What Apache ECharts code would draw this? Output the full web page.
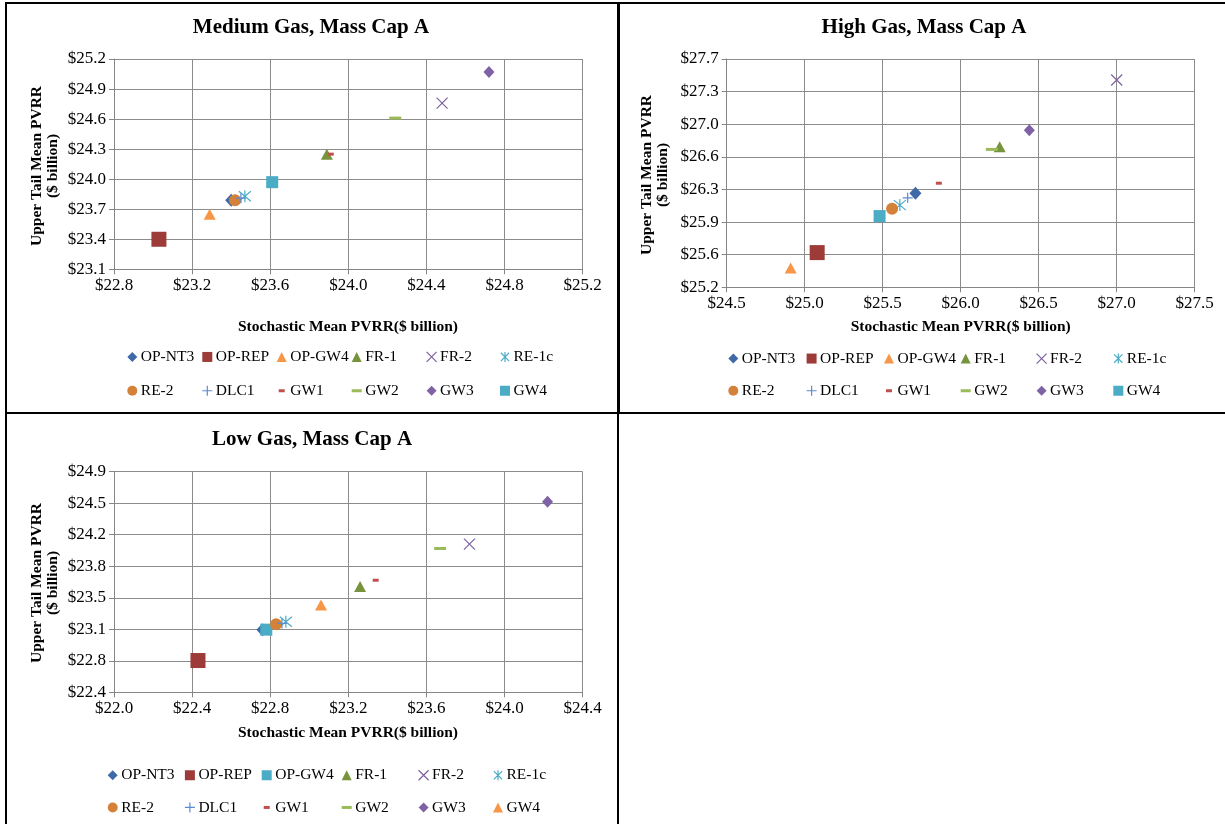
<!DOCTYPE html>
<html>
<head>
<meta charset="utf-8">
<script src="https://cdn.jsdelivr.net/npm/echarts@6/dist/echarts.min.js"></script>
<style>
  html, body { margin: 0; padding: 0; background: #fff; }
  #chart { width: 1225px; height: 824px; }
</style>
</head>
<body>
<div id="chart"></div>
<script>
// Portfolio names, in legend order
const seriesNames = ['OP-NT3', 'OP-REP', 'OP-GW4', 'FR-1', 'FR-2', 'RE-1c',
                     'RE-2', 'DLC1', 'GW1', 'GW2', 'GW3', 'GW4'];

// Medium Gas, Mass Cap A ($ billion)
const mediumStochastic = [23.40, 23.03, 23.29, 23.89, 24.48, 23.47, 23.42, 23.45, 23.91, 24.24, 24.72, 23.61];
const mediumUpperTail  = [23.79, 23.40, 23.65, 24.25, 24.76, 23.83, 23.79, 23.81, 24.25, 24.61, 25.07, 23.97];

// High Gas, Mass Cap A ($ billion)
const highStochastic = [25.71, 25.08, 24.91, 26.25, 27.00, 25.61, 25.56, 25.66, 25.86, 26.20, 26.44, 25.48];
const highUpperTail  = [26.23, 25.58, 25.41, 26.74, 27.47, 26.10, 26.06, 26.18, 26.34, 26.71, 26.92, 25.98];

// Low Gas, Mass Cap A ($ billion)
const lowStochastic = [22.76, 22.43, 22.78, 23.26, 23.82, 22.88, 22.83, 22.86, 23.34, 23.67, 24.22, 23.06];
const lowUpperTail  = [23.11, 22.76, 23.11, 23.60, 24.08, 23.20, 23.17, 23.18, 23.67, 24.03, 24.56, 23.39];

// Axis ranges: [min, max, step]
const mediumXRange = [22.8, 25.2, 0.4];
const mediumYRange = [23.1, 25.2, 0.3];
const highXRange   = [24.5, 27.5, 0.5];
const highYRange   = [25.2, 27.7, 2.5 / 7];
const lowXRange    = [22.0, 24.4, 0.4];
const lowYRange    = [22.4, 24.9, 2.5 / 7];

const panelTitles = ['Medium Gas, Mass Cap A', 'High Gas, Mass Cap A', 'Low Gas, Mass Cap A'];
const xTitle = 'Stochastic Mean PVRR($ billion)';
const yTitle = 'Upper Tail Mean PVRR\n($ billion)';

// ---- marker styles ----
const CROSS = 'path://M0,0L10,10M10,0L0,10';
const STAR = 'path://M0,0L10,10M10,0L0,10M5,-1L5,11';
const PLUS = 'path://M5,0L5,10M0,5L10,5';
const baseStyles = {
  'OP-NT3': { symbol: 'diamond', size: [12, 13], fill: '#3F6AA8' },
  'OP-REP': { symbol: 'rect', size: 15, fill: '#9D3B38' },
  'OP-GW4': { symbol: 'triangle', size: [12, 11], fill: '#F79646' },
  'FR-1':   { symbol: 'triangle', size: [12, 11], fill: '#77933C' },
  'FR-2':   { symbol: CROSS, size: 11, stroke: '#7E62A1' },
  'RE-1c':  { symbol: STAR, size: 12, stroke: '#4BACC6' },
  'RE-2':   { symbol: 'circle', size: 12, fill: '#D4813A' },
  'DLC1':   { symbol: PLUS, size: 10, stroke: '#5B8BD0' },
  'GW1':    { symbol: 'rect', size: [6, 3], fill: '#C0504D', icon: 'path://M0,0M10,10M2,3.5H8V6.5H2Z' },
  'GW2':    { symbol: 'rect', size: [12, 3], fill: '#9BBB59', icon: 'path://M0,0M10,10M0,3.5H10V6.5H0Z' },
  'GW3':    { symbol: 'diamond', size: [11, 12], fill: '#7F62A6' },
  'GW4':    { symbol: 'rect', size: 12, fill: '#4BACC6' }
};
// In the low-gas case OP-GW4 and GW4 swap their markers
const lowStyles = Object.assign({}, baseStyles, {
  'OP-GW4': baseStyles['GW4'],
  'GW4': baseStyles['OP-GW4']
});

const SERIF = '"Liberation Serif", "Times New Roman", serif';

// ---- layout ----
const grids = [
  { left: 114, top: 59, width: 468.7, height: 210.3 },
  { left: 726.7, top: 59, width: 468, height: 228.3 },
  { left: 114, top: 471.7, width: 468.7, height: 220.6 }
];

function valueAxis(range, gridIndex) {
  return {
    type: 'value', gridIndex: gridIndex,
    min: range[0], max: range[1], interval: range[2],
    axisLine: { show: true, onZero: false, lineStyle: { color: '#868686', width: 1 } },
    axisTick: { show: true, inside: false, length: 5, lineStyle: { color: '#868686', width: 1 } },
    splitLine: { show: true, lineStyle: { color: '#8C8C8C', width: 1 } },
    axisLabel: {
      color: '#000', fontFamily: SERIF, fontSize: 17, margin: 8,
      showMinLabel: true, showMaxLabel: true, hideOverlap: false,
      formatter: v => '$' + v.toFixed(1)
    }
  };
}

const panels = [
  { xs: mediumStochastic, ys: mediumUpperTail, styles: baseStyles },
  { xs: highStochastic, ys: highUpperTail, styles: baseStyles },
  { xs: lowStochastic, ys: lowUpperTail, styles: lowStyles }
];

const series = [];
panels.forEach((p, g) => {
  seriesNames.forEach((name, i) => {
    const st = p.styles[name];
    const itemStyle = st.stroke
      ? { color: 'rgba(0,0,0,0)', borderColor: st.stroke, borderWidth: 1.2, opacity: 1 }
      : { color: st.fill, borderWidth: 0, opacity: 1 };
    series.push({
      type: 'scatter', name: name,
      xAxisIndex: g, yAxisIndex: g,
      data: [[p.xs[i], p.ys[i]]],
      symbol: st.symbol, symbolSize: st.size,
      itemStyle: itemStyle,
      emphasis: { disabled: true },
      silent: true,
      z: 2 + i
    });
  });
});

// ---- legends: six columns, two rows per panel ----
const legendLayout = [
  { cols: [132.3, 206.7, 281.7, 356.7, 431, 505], rows: [356.7, 390], styles: baseStyles },
  { cols: [733.3, 811, 889, 965.7, 1041, 1118.3], rows: [358.3, 390], styles: baseStyles },
  { cols: [112.7, 189.3, 266.7, 346.7, 423, 498], rows: [775, 806.7], styles: lowStyles }
];
const LEGEND_FONT = 15.5;
const legends = [];
legendLayout.forEach(L => {
  L.cols.forEach((cx, c) => {
    const items = [seriesNames[c], seriesNames[c + 6]].map(name => {
      const st = L.styles[name];
      return {
        name: name,
        icon: st.icon || st.symbol,
        itemStyle: st.stroke
          ? { color: 'rgba(0,0,0,0)', borderColor: st.stroke, borderWidth: 1.2, opacity: 1 }
          : { color: st.fill, borderWidth: 0, opacity: 1 }
      };
    });
    legends.push({
      orient: 'vertical', selectedMode: false,
      left: cx - 5, top: L.rows[0] - LEGEND_FONT / 2,
      padding: 0, itemWidth: 10, itemHeight: 10,
      itemGap: (L.rows[1] - L.rows[0]) - LEGEND_FONT,
      textStyle: { color: '#000', fontFamily: SERIF, fontSize: LEGEND_FONT, padding: [0, 0, 0, -1.5] },
      data: items
    });
  });
});

// ---- frames and titles ----
const frameStyle = { fill: 'none', stroke: '#000', lineWidth: 2 };
function label(x, y, text, size, extra) {
  return Object.assign({
    type: 'text', x: x, y: y, silent: true,
    style: {
      text: text, fill: '#000', align: 'center', verticalAlign: 'middle',
      font: 'bold ' + size + 'px ' + SERIF, lineHeight: 16
    }
  }, extra || {});
}
const graphic = [
  { type: 'rect', silent: true, shape: { x: 6, y: 3, width: 612, height: 410 }, style: frameStyle },
  { type: 'rect', silent: true, shape: { x: 619, y: 3, width: 612, height: 410 }, style: frameStyle },
  { type: 'rect', silent: true, shape: { x: 6, y: 413, width: 612, height: 420 }, style: frameStyle },
  label(311, 28, panelTitles[0], 21),
  label(924, 28, panelTitles[1], 21),
  label(312, 440, panelTitles[2], 21),
  label(348, 327, xTitle, 15.5),
  label(960.7, 327, xTitle, 15.5),
  label(348, 733, xTitle, 15.5),
  label(45, 166, yTitle, 15.5, { rotation: Math.PI / 2 }),
  label(655, 175, yTitle, 15.5, { rotation: Math.PI / 2 }),
  label(45, 583, yTitle, 15.5, { rotation: Math.PI / 2 })
];

const chart = echarts.init(document.getElementById('chart'), null, { renderer: 'canvas' });
chart.setOption({
  animation: false,
  backgroundColor: '#fff',
  grid: grids.map(g => Object.assign({ outerBoundsMode: 'none', containLabel: false }, g)),
  xAxis: [valueAxis(mediumXRange, 0), valueAxis(highXRange, 1), valueAxis(lowXRange, 2)],
  yAxis: [valueAxis(mediumYRange, 0), valueAxis(highYRange, 1), valueAxis(lowYRange, 2)],
  legend: legends,
  graphic: graphic,
  series: series
});
</script>
</body>
</html>
